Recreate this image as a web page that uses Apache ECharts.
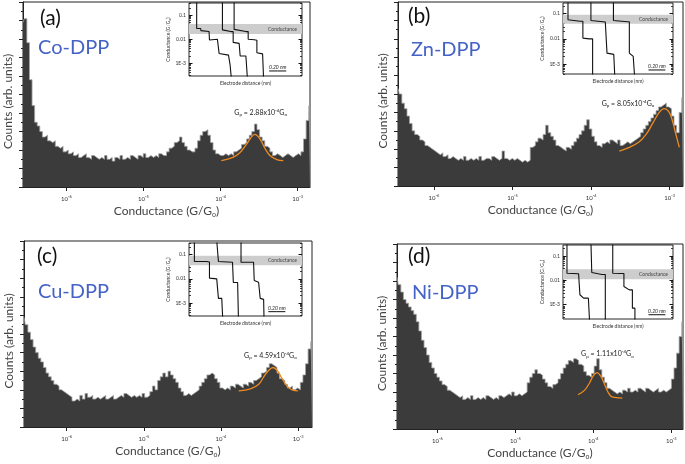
<!DOCTYPE html>
<html><head><meta charset="utf-8">
<script src="https://cdn.jsdelivr.net/npm/echarts@6/dist/echarts.min.js"></script>
<style>html,body{margin:0;padding:0;background:#fff}#c{width:685px;height:464px}</style>
</head><body><div id="c"></div>
<script>
// ---------------- DATA ----------------
const xTickLogs = [-6, -5, -4, -3];            // decade ticks, log10(G/G0)
const insetYTicks = [-1, -2, -3];               // inset ticks, log10(G/G0)
const insetYLabels = ['0.1', '0.01', '1E-3'];
const panelLetters = ['(a)', '(b)', '(c)', '(d)'];
const panelNames = ['Co-DPP', 'Zn-DPP', 'Cu-DPP', 'Ni-DPP'];
const gpMantissa = ['2.88', '8.05', '4.59', '1.11'];
const gpExponent = -4;

const countsA = [89,91,78,58,44,35,33,30,27,28,
25,24,25,22,21,22,19,20,18,19,
17,18,16,17,18,16,15,17,16,15,
16,15,17,15,16,14,16,15,17,15,
16,15,17,16,15,17,16,18,16,17,
16,17,16,18,17,17,19,21,22,24,
25,27,24,22,20,19,19,21,25,28,
30,31,28,24,20,18,17,17,18,17,
18,17,19,20,21,23,24,26,28,30,
34,31,27,25,22,21,19,17,18,17,
16,17,18,17,16,17,18,17,19,26,
36,44];
const countsB = [53,50,45,42,38,34,30,28,27,25,
24,22,21,20,19,18,17,18,16,17,
15,16,15,14,15,14,16,14,15,14,
15,14,16,14,15,15,14,16,15,14,
15,19,15,14,15,14,15,14,13,14,
13,14,21,22,24,26,25,28,33,29,
27,25,22,21,20,19,21,20,22,24,
26,28,30,33,36,31,27,24,22,21,
23,24,23,25,24,23,25,22,23,24,
23,24,25,26,27,29,31,33,35,37,
39,41,43,44,45,43,42,38,33,29,
40,48];
const countsC = [59,55,51,47,43,40,37,35,32,29,
27,25,23,22,20,19,18,17,16,14,
15,14,17,15,18,16,17,15,16,15,
16,17,15,16,17,15,16,17,16,18,
17,16,17,16,17,16,18,16,17,19,
22,20,25,27,29,27,30,28,26,24,
21,19,17,18,17,18,19,20,22,24,
26,28,29,28,26,24,21,20,21,20,
22,21,23,22,21,23,22,24,23,25,
26,27,29,30,32,34,33,32,29,26,
25,23,21,22,20,21,20,24,28,34,
42,46];
const countsD = [82,78,74,70,68,66,64,62,58,53,
48,44,40,36,33,30,28,26,24,23,
21,20,19,18,17,18,16,17,16,18,
16,17,16,17,16,18,17,16,17,16,
18,17,18,19,18,20,18,19,18,19,
20,25,28,30,32,30,29,27,25,23,
22,24,25,27,30,33,35,37,36,38,
37,35,34,31,29,28,30,34,38,32,
28,25,22,21,20,19,20,19,21,20,
22,20,21,20,22,21,20,22,21,20,
21,22,20,21,20,21,22,27,33,41,
50,58];

// Gaussian fits (log10 G/G0, counts)
const fitAx = [-3.99,-3.84,-3.75,-3.665,-3.6,-3.556,-3.49,-3.426,-3.36,-3.27,-3.187];
const fitAy = [14.3,16,18.5,23,27,28.5,26,21,17,14.8,14.3];
const fitBx = [-3.64,-3.513,-3.386,-3.3,-3.216,-3.132,-3.068,-3.005,-2.962,-2.92,-2.877];
const fitBy = [19,21,24,28,34,40,42,40,35,28,21];
const fitCx = [-3.77,-3.619,-3.51,-3.446,-3.38,-3.325,-3.273,-3.208,-3.143,-3.078,-3.0];
const fitCy = [19.4,20.5,23,27,30.5,32,30.5,26,22,20,19.4];
const fitDx = [-4.196,-4.111,-4.047,-4.004,-3.953,-3.897,-3.855,-3.812,-3.769,-3.705,-3.628];
const fitDy = [18.5,21,25,28.5,30.5,28,24,20,17.6,17,16.7];

// Inset traces: [distance nm, log10 G/G0]
const traceA1 = [[0.09,-0.4],[0.09,-1.56],[0.137,-1.56],[0.14,-1.65],[0.235,-1.69],[0.24,-2.04],[0.333,-2.01],[0.353,-2.6],[0.463,-2.67],[0.482,-3.08],[0.498,-3.1],[0.498,-3.7]];
const traceA2 = [[0.392,-0.4],[0.392,-1.62],[0.49,-1.69],[0.518,-1.69],[0.518,-2.14],[0.588,-2.18],[0.6,-2.18],[0.6,-2.71],[0.667,-2.71],[0.686,-2.75],[0.686,-3.7]];
const traceA3 = [[0.529,-0.4],[0.529,-1.6],[0.667,-1.69],[0.694,-1.69],[0.694,-2.01],[0.765,-2.03],[0.796,-2.05],[0.796,-2.57],[0.863,-2.62],[0.875,-2.62],[0.875,-3.7]];
const traceB1 = [[0.059,-0.4],[0.059,-1.24],[0.2,-1.3],[0.235,-1.3],[0.235,-1.97],[0.31,-2.0],[0.35,-2.0],[0.35,-3.7]];
const traceB2 = [[0.33,-0.4],[0.33,-1.27],[0.5,-1.33],[0.52,-1.33],[0.52,-2.57],[0.6,-2.62],[0.615,-2.62],[0.615,-3.7]];
const traceB3 = [[0.596,-0.4],[0.596,-1.27],[0.76,-1.32],[0.784,-1.32],[0.784,-2.57],[0.83,-2.7],[0.85,-2.7],[0.85,-3.7]];
const traceC1 = [[0.063,-0.4],[0.063,-1.28],[0.208,-1.28],[0.24,-1.3],[0.24,-1.97],[0.325,-2.0],[0.345,-2.0],[0.345,-2.81],[0.384,-2.81],[0.396,-2.85],[0.396,-3.7]];
const traceC2 = [[0.325,-0.4],[0.345,-1.28],[0.51,-1.31],[0.52,-1.31],[0.52,-2.15],[0.57,-2.15],[0.58,-2.2],[0.58,-3.7]];
const traceC3 = [[0.61,-0.4],[0.61,-1.31],[0.757,-1.31],[0.765,-1.35],[0.765,-2.07],[0.816,-2.14],[0.835,-2.14],[0.835,-2.81],[0.875,-2.85],[0.88,-3.7]];
const traceD1 = [[0.047,-0.4],[0.047,-1.71],[0.184,-1.73],[0.2,-1.73],[0.2,-2.59],[0.243,-2.73],[0.3,-2.73],[0.314,-3.7]];
const traceD2 = [[0.33,-0.4],[0.34,-1.68],[0.46,-1.76],[0.5,-1.76],[0.5,-3.7]];
const traceD3 = [[0.588,-0.4],[0.588,-1.71],[0.694,-1.72],[0.72,-1.72],[0.72,-2.25],[0.784,-2.39],[0.82,-2.39],[0.82,-3.14],[0.85,-3.14],[0.85,-3.7]];

// conductance band [low, high] in log10 G/G0
const bandA = [-1.79, -1.375];
const bandB = [-1.40, -1.04];
const bandC = [-1.44, -1.04];
const bandD = [-1.952, -1.544];
const scaleBarLen = 0.20; // nm
const scaleBarStart = [0.94, 1.01, 0.93, 1.01];
const scaleBarLevel = [-3.33, -3.24, -3.36, -3.41];

// ---------------- LAYOUT ----------------
const FONT = 'Lato, "Open Sans", sans-serif';
const panels = [
  {box:[23,2,287,185],  range:[-6.563,-2.84], counts:countsA, fx:fitAx, fy:fitAy, gp:[-3.48,40],
   letter:[40,8], name:[38,38],
   inset:{box:[189,3,113,73], xMax:1.325, yr:[-3.54,-0.5], band:bandA, traces:[traceA1,traceA2,traceA3]}},
  {box:[398,2,285,184], range:[-6.458,-2.83], counts:countsB, fx:fitBx, fy:fitBy, gp:[-3.53,44.6],
   letter:[408,6], name:[411,40],
   inset:{box:[563,3,110,71], xMax:1.30, yr:[-3.4,-0.573], band:bandB, traces:[traceB1,traceB2,traceB3]}},
  {box:[24,241,288,186], range:[-6.554,-2.82], counts:countsC, fx:fitCx, fy:fitCy, gp:[-3.36,38.2],
   letter:[37,246], name:[38,282],
   inset:{box:[189,243,113,73], xMax:1.325, yr:[-3.54,-0.514], band:bandC, traces:[traceC1,traceC2,traceC3]}},
  {box:[397,244,286,185], range:[-6.517,-2.85], counts:countsD, fx:fitDx, fy:fitDy, gp:[-3.82,40.5],
   letter:[408,246], name:[412,283],
   inset:{box:[563,245,110,74], xMax:1.30, yr:[-3.585,-0.55], band:bandD, traces:[traceD1,traceD2,traceD3]}}
];

function logMinor(lo, hi) {
  const out = [];
  for (let d = Math.floor(lo); d <= Math.ceil(hi); d++)
    for (let k = 2; k <= 9; k++) { const v = d + Math.log10(k); if (v > lo && v < hi) out.push(v); }
  return out;
}

const richSS = {
  n: {fontSize: 12, color: '#444', fontFamily: FONT},
  s: {fontSize: 7, color: '#444', fontFamily: FONT, padding: [6, 0, 0, 0]}
};

const option = {animation: false, backgroundColor: '#fff', grid: [], xAxis: [], yAxis: [], series: [], title: []};

panels.forEach((P, pi) => {
  const g = option.grid.length;
  option.grid.push({left: P.box[0], top: P.box[1], width: P.box[2], height: P.box[3],
    show: true, borderColor: '#222', borderWidth: 1, backgroundColor: 'transparent'});
  const xi = option.xAxis.length;
  option.xAxis.push({type: 'category', gridIndex: g, data: P.counts.map((_, i) => i), show: false, boundaryGap: false});
  option.xAxis.push({type: 'value', gridIndex: g, min: P.range[0], max: P.range[1], position: 'bottom',
    axisLine: {show: true, onZero: false, lineStyle: {color: '#222', width: 1}},
    axisTick: {show: true, customValues: xTickLogs, length: 4, inside: false, lineStyle: {color: '#222'}},
    axisLabel: {show: true, customValues: xTickLogs, margin: 8, formatter: v => '{b|10}{e|' + v + '}',
      rich: {b: {fontSize: 6, color: '#333', fontFamily: FONT}, e: {fontSize: 4, color: '#333', fontFamily: FONT, padding: [0, 0, 5, 0]}}},
    splitLine: {show: false},
    name: '{n|Conductance (G/G}{s|o}{n|)}', nameLocation: 'middle', nameGap: 18,
    nameTextStyle: {rich: richSS}});
  option.xAxis.push({type: 'value', gridIndex: g, min: P.range[0], max: P.range[1], position: 'bottom',
    axisLine: {show: false},
    axisTick: {show: true, customValues: logMinor(P.range[0], P.range[1]), length: 2.5, inside: true, lineStyle: {color: '#222'}},
    axisLabel: {show: false}, splitLine: {show: false}});
  const yi = option.yAxis.length;
  option.yAxis.push({type: 'value', gridIndex: g, min: 0, max: 100, interval: 10,
    axisLine: {show: true, lineStyle: {color: '#222'}},
    axisTick: {show: true, length: 4, lineStyle: {color: '#222'}},
    minorTick: {show: true, splitNumber: 2, length: 2, lineStyle: {color: '#222'}},
    axisLabel: {show: false}, splitLine: {show: false}, minorSplitLine: {show: false},
    name: 'Counts (arb. units)', nameLocation: 'middle', nameGap: 9,
    nameTextStyle: {fontSize: 12, color: '#444', fontFamily: FONT, padding: [0, 0, 0, -14]}});

  // histogram as filled step outline
  option.series.push({type: 'line', xAxisIndex: xi, yAxisIndex: yi, data: P.counts, step: 'middle',
    symbol: 'none', lineStyle: {color: '#a3a3a3', width: 0.8},
    areaStyle: {color: '#3b3b3b', opacity: 1}, silent: true, z: 2});
  option.series.push({type: 'line', xAxisIndex: xi + 1, yAxisIndex: yi,
    data: P.fx.map((x, i) => [x, P.fy[i]]), smooth: 0.4, symbol: 'none',
    lineStyle: {color: '#ee8a1f', width: 1.3}, z: 5, silent: true,
    markPoint: {symbol: 'circle', symbolSize: 0, silent: true,
      data: [{coord: P.gp}],
      label: {show: true, position: 'inside',
        formatter: () => '{t|G}{s|p}{t| = ' + gpMantissa[pi] + 'x10}{e|' + gpExponent + '}{t|G}{s|o}',
        rich: {t: {fontSize: 7, color: '#222', fontFamily: FONT},
               s: {fontSize: 4.5, color: '#222', fontFamily: FONT, padding: [4, 0, 0, 0]},
               e: {fontSize: 4.5, color: '#222', fontFamily: FONT, padding: [0, 0, 5, 0]}}}}});

  option.title.push({text: panelLetters[pi], left: P.letter[0], top: P.letter[1], padding: 0,
    textStyle: {fontSize: 21, fontWeight: 'normal', color: '#111', fontFamily: FONT}});
  option.title.push({text: panelNames[pi], left: P.name[0], top: P.name[1], padding: 0,
    textStyle: {fontSize: 20, fontWeight: 'normal', color: '#4563c6', fontFamily: FONT}});

  // ---- inset ----
  const I = P.inset;
  const gi = option.grid.length;
  option.grid.push({left: I.box[0], top: I.box[1], width: I.box[2], height: I.box[3],
    show: true, borderColor: '#111', borderWidth: 0.9, backgroundColor: 'transparent'});
  const ixi = option.xAxis.length;
  option.xAxis.push({type: 'value', gridIndex: gi, min: 0, max: I.xMax,
    axisLine: {show: false}, axisTick: {show: false}, axisLabel: {show: false}, splitLine: {show: false},
    name: 'Electrode distance (nm)', nameLocation: 'middle', nameGap: 5,
    nameTextStyle: {fontSize: 5, color: '#333', fontFamily: FONT}});
  const iyi = option.yAxis.length;
  const minors = logMinor(I.yr[0], I.yr[1]);
  ['left', 'right'].forEach(pos => {
    option.yAxis.push({type: 'value', gridIndex: gi, min: I.yr[0], max: I.yr[1], position: pos,
      axisLine: {show: false},
      axisTick: {show: true, inside: true, customValues: insetYTicks, length: 3.5, lineStyle: {color: '#111'}},
      axisLabel: {show: pos === 'left', customValues: insetYTicks, margin: 3,
        formatter: v => insetYLabels[insetYTicks.indexOf(Math.round(v))],
        fontSize: 5, color: '#333', fontFamily: FONT},
      splitLine: {show: false},
      name: pos === 'left' ? '{a|Conductance (G/G}{b|o}{a|)}' : '', nameLocation: 'middle', nameGap: 14,
      nameTextStyle: {rich: {a: {fontSize: 5, color: '#333', fontFamily: FONT},
                             b: {fontSize: 3.5, color: '#333', fontFamily: FONT, padding: [3, 0, 0, 0]}}}});
    option.yAxis.push({type: 'value', gridIndex: gi, min: I.yr[0], max: I.yr[1], position: pos,
      axisLine: {show: false},
      axisTick: {show: true, inside: true, customValues: minors, length: 2, lineStyle: {color: '#111', width: 0.8}},
      axisLabel: {show: false}, splitLine: {show: false}});
  });
  // conductance band
  option.series.push({type: 'line', xAxisIndex: ixi, yAxisIndex: iyi, data: [[0, I.band[0]], [I.xMax, I.band[0]]],
    symbol: 'none', lineStyle: {opacity: 0}, silent: true, z: 7,
    markArea: {silent: true, z: 7, itemStyle: {color: '#cdcdcd'},
      label: {show: true, position: 'insideRight', formatter: 'Conductance', fontSize: 5, color: '#444', fontFamily: FONT},
      data: [[{coord: [0, I.band[0]]}, {coord: [I.xMax, I.band[1]]}]]}});
  I.traces.forEach(tr => {
    option.series.push({type: 'line', xAxisIndex: ixi, yAxisIndex: iyi, data: tr, symbol: 'none',
      lineStyle: {color: '#111', width: 1.1}, silent: true, z: 8});
  });
  const s0 = scaleBarStart[pi], yl = scaleBarLevel[pi];
  option.series.push({type: 'line', xAxisIndex: ixi, yAxisIndex: iyi,
    data: [[s0, yl], [s0 + scaleBarLen / 2, yl], [s0 + scaleBarLen, yl]],
    symbol: 'circle', symbolSize: 0, lineStyle: {color: '#111', width: 1}, silent: true, z: 8,
    label: {show: true, position: 'top', distance: 1,
      formatter: p => p.dataIndex === 1 ? scaleBarLen.toFixed(2) + ' nm' : '',
      fontSize: 5, fontStyle: 'italic', color: '#222', fontFamily: FONT}});
});

const chart = echarts.init(document.getElementById('c'), null, {renderer: 'canvas'});
chart.setOption(option);
</script>
</body></html>
